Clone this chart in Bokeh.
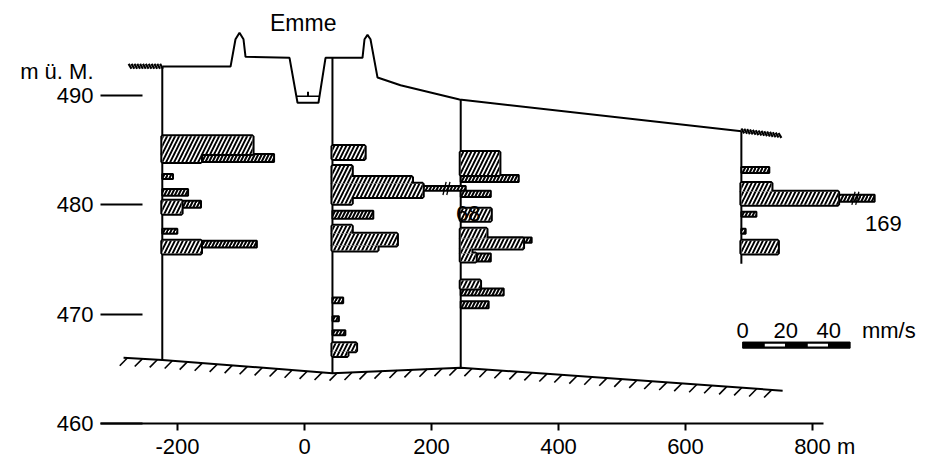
import numpy as np
from bokeh.plotting import figure
from bokeh.models import Range1d, FixedTicker, LinearAxis
from bokeh.embed import file_html
from bokeh.resources import INLINE
from bokeh.core.properties import value

# ---------------- data ----------------
x_ticks = [-200, 0, 200, 400, 600, 800]
x_unit = "m"
y_ticks = [460, 470, 480, 490]
y_unit = "m ü. M."
y_unit_pos = 492.2

well_x = [-224, 44, 246, 688]
well_top = [492.6, 493.4, 489.6, 486.7]
well_bottom = [465.8, 464.6, 465.1, 474.6]

surface_x = [-223.6, -116.5, -108.7, -102.4, -96.1, -92.9, -23.6, -11.0, 22.0, 33.1,
             91.3, 94.5, 99.2, 103.9, 115.0, 151.2, 244.1, 688.2]
surface_z = [492.6, 492.6, 495.1, 495.7, 495.1, 493.5, 493.4, 489.3, 489.3, 493.4,
             493.4, 495.1, 495.5, 495.1, 491.6, 490.9, 489.6, 486.7]

water_x = [-12.6, 23.6]
water_z = [489.9, 489.9]

base_x = [-285, -224, 44, 246, 753]
base_z = [466.0, 465.8, 464.6, 465.1, 463.0]

marks_x0 = [-277, 688]
marks_x1 = [-226, 750]

# coarse (tall) velocity bars: well index, top, bottom elevation, velocity mm/s
coarse_well = [0, 0, 0, 0,
               1, 1, 1, 1, 1, 1, 1, 1, 1, 1,
               2, 2, 2, 2, 2, 2, 2,
               3, 3, 3]
coarse_top = [486.25, 484.61, 480.34, 476.70,
              485.34, 483.52, 482.52, 481.89, 480.70, 478.07, 477.34, 476.25, 467.34, 466.61,
              484.80, 479.61, 477.80, 476.89, 475.98, 475.52, 473.07,
              481.98, 481.16, 476.70]
coarse_bottom = [484.61, 483.89, 479.16, 475.52,
                 484.16, 482.52, 481.89, 480.70, 480.07, 477.34, 476.25, 475.80, 466.61, 466.16,
                 482.70, 478.52, 476.89, 475.98, 475.52, 474.80, 472.34,
                 481.16, 479.98, 475.52]
coarse_v = [42, 18, 9, 18,
            15, 9, 37, 42, 9, 9, 30, 21, 11, 7,
            18, 14, 12, 29, 5, 7, 9,
            14, 45, 17]

# fine (thin) velocity bars
fine_well = [0, 0, 0, 0, 0, 0,
             1, 1, 1, 1, 1,
             2, 2, 2, 2, 2, 2,
             3, 3, 3, 3]
fine_top = [484.61, 482.80, 481.43, 480.34, 477.80, 476.70,
            481.70, 479.43, 471.52, 469.80, 468.52,
            482.70, 481.25, 477.00, 475.52, 472.34, 471.16,
            483.43, 480.89, 479.34, 477.80]
fine_bottom = [483.89, 482.34, 480.80, 479.70, 477.34, 476.07,
               481.25, 478.70, 470.98, 469.34, 468.07,
               482.07, 480.70, 476.50, 474.80, 471.70, 470.52,
               482.89, 480.25, 478.89, 477.34]
fine_v = [52, 5, 12, 18, 7, 44,
          68, 19, 5, 3, 6,
          27, 14, 33, 14, 20, 13,
          13, 169, 7, 2]

fine_cap = 62      # drawn length of an off-scale bar
break_at = 52      # position of the break mark on an off-scale bar

scale_ticks = [0, 20, 40]
scale_len = 50
scale_x0 = 690
scale_z = 467.16

# ---------------- geometry helpers ----------------
PX_X = 0.635            # px per metre horizontally
K = 2.15 / PX_X         # metres of drawing per mm/s

FONT_NAME = "Liberation Sans"
FONT = value(FONT_NAME)
FS = "22px"

p = figure(width=929, height=461, x_range=Range1d(-321.3, 984.3), y_range=Range1d(460, 498.64),
           output_backend="svg", toolbar_location=None, x_axis_type=None, y_axis_type=None,
           min_border_left=100, min_border_right=0, min_border_top=0, min_border_bottom=36)
p.outline_line_color = None
p.background_fill_color = "white"
p.border_fill_color = "white"

FIG = "\u2007"
x_labels = {t: str(t) for t in x_ticks}
x_labels[x_ticks[-1]] = FIG * 2 + str(x_ticks[-1]) + " " + x_unit
xaxis = LinearAxis(ticker=FixedTicker(ticks=x_ticks), bounds=(-321.3, 817),
                   axis_line_width=2, axis_line_color="black",
                   major_tick_in=0, major_tick_out=7, major_tick_line_width=2,
                   major_tick_line_color="black", minor_tick_line_color=None,
                   major_label_text_font=FONT_NAME, major_label_text_font_size=FS,
                   major_label_text_color="black", major_label_standoff=3,
                   major_label_overrides=x_labels)
p.add_layout(xaxis, "below")

# tick marks of the elevation axis (no labels)
ytick_axis = LinearAxis(ticker=FixedTicker(ticks=y_ticks), axis_line_color=None,
                        major_tick_in=42, major_tick_out=0, major_tick_line_width=2,
                        major_tick_line_color="black", minor_tick_line_color=None,
                        major_label_overrides={t: "" for t in y_ticks},
                        major_label_text_font_size="1px", major_label_standoff=0)
p.add_layout(ytick_axis, "left")
# labels of the elevation axis, with the unit on top
y_labels = {t: str(t) for t in y_ticks}
y_labels[y_unit_pos] = y_unit
ylab_axis = LinearAxis(ticker=FixedTicker(ticks=y_ticks + [y_unit_pos]), axis_line_color=None,
                       major_tick_in=0, major_tick_out=0, major_tick_line_color=None,
                       minor_tick_line_color=None,
                       major_label_text_font=FONT_NAME, major_label_text_font_size=FS,
                       major_label_text_color="black", major_label_standoff=7,
                       major_label_overrides=y_labels)
p.add_layout(ylab_axis, "left")

# ground surface
p.line(surface_x, surface_z, line_color="black", line_width=2)
p.line(water_x, water_z, line_color="black", line_width=1.5)
wx = float(np.mean(water_x))
p.segment(x0=[wx], y0=[water_z[0]], x1=[wx], y1=[water_z[0] + 0.4], line_color="black", line_width=2)

# surface symbols
mx0, my0, mx1, my1 = [], [], [], []
for a, b in zip(marks_x0, marks_x1):
    for xx in np.arange(a, b, 4.5):
        if xx > surface_x[-1]:
            zz = surface_z[-1] - (xx - surface_x[-1]) * 0.007
        else:
            zz = float(np.interp(xx, surface_x, surface_z, left=surface_z[0], right=surface_z[-1]))
        mx0.append(float(xx)); my0.append(zz + 0.25); mx1.append(float(xx) + 4.5); my1.append(zz - 0.2)
p.segment(x0=mx0, y0=my0, x1=mx1, y1=my1, line_color="black", line_width=2.2)

# aquifer base with hatching
p.line(base_x, base_z, line_color="black", line_width=2)
hx = np.arange(base_x[0] + 6, base_x[-1], 23.6)
hz = np.interp(hx, base_x, base_z)
p.segment(x0=hx, y0=hz, x1=hx - 12, y1=hz - 0.7, line_color="black", line_width=1.6)

# wells
p.segment(x0=well_x, y0=well_top, x1=well_x, y1=well_bottom, line_color="black", line_width=2)

# fine bars
fw = np.array(well_x, dtype=float)[fine_well]
fv = np.array(fine_v, dtype=float)
fd = np.minimum(fv, fine_cap)
p.quad(left=fw, right=fw + fd * K, top=fine_top, bottom=fine_bottom,
       fill_color="white", line_color="black", line_width=2,
       hatch_pattern="right_diagonal_line", hatch_color="black", hatch_weight=2, hatch_scale=7)

# coarse bars: outline first, then fill to hide inner steps
cw = np.array(well_x, dtype=float)[coarse_well]
cr = cw + np.array(coarse_v, dtype=float) * K
p.quad(left=cw, right=cr, top=coarse_top, bottom=coarse_bottom,
       fill_color="white", line_color="black", line_width=4)
p.quad(left=cw, right=cr, top=coarse_top, bottom=coarse_bottom,
       fill_color="white", line_color=None,
       hatch_pattern="right_diagonal_line", hatch_color="black", hatch_weight=1.9, hatch_scale=8)

# break marks and value for off-scale bars
for i, v in enumerate(fine_v):
    if v > fine_cap:
        xb = float(fw[i]) + break_at * K
        zc = (fine_top[i] + fine_bottom[i]) / 2
        for dx in (0, 6):
            p.segment(x0=[xb + dx - 2], y0=[zc - 0.6], x1=[xb + dx + 3], y1=[zc + 0.6],
                      line_color="black", line_width=1.3)
        p.text(x=[float(fw[i]) + (fine_cap - 4.5) * K], y=[zc - 2.3], text=[str(v)], text_font=FONT,
               text_font_size=FS, text_align="left", text_baseline="middle", text_color="black")

# velocity scale bar
seg_l = [scale_x0 + a * K for a in range(0, scale_len, 10)]
seg_r = [scale_x0 + (a + 10) * K for a in range(0, scale_len, 10)]
p.quad(left=[seg_l[0]], right=[seg_r[-1]], top=[scale_z + 0.28], bottom=[scale_z - 0.28],
       fill_color="black", line_color="black", line_width=1)
p.quad(left=[seg_l[1] + 1, seg_l[3] + 1], right=[seg_r[1] - 1, seg_r[3] - 1],
       top=[scale_z + 0.12] * 2, bottom=[scale_z - 0.12] * 2, fill_color="white", line_color=None)
p.text(x=[scale_x0 + t * K for t in scale_ticks], y=[scale_z + 1.35] * len(scale_ticks),
       text=[str(t) for t in scale_ticks], text_font=FONT, text_font_size=FS,
       text_align="center", text_baseline="middle", text_color="black")
p.text(x=[scale_x0 + 55.5 * K], y=[scale_z + 1.35], text=["mm/s"], text_font=FONT,
       text_font_size=FS, text_align="left", text_baseline="middle", text_color="black")

# river name
p.text(x=[-2], y=[496.6], text=["Emme"], text_font=FONT, text_font_size="23px",
       text_align="center", text_baseline="middle", text_color="black")

open("out.html", "w").write(file_html(p, INLINE))
